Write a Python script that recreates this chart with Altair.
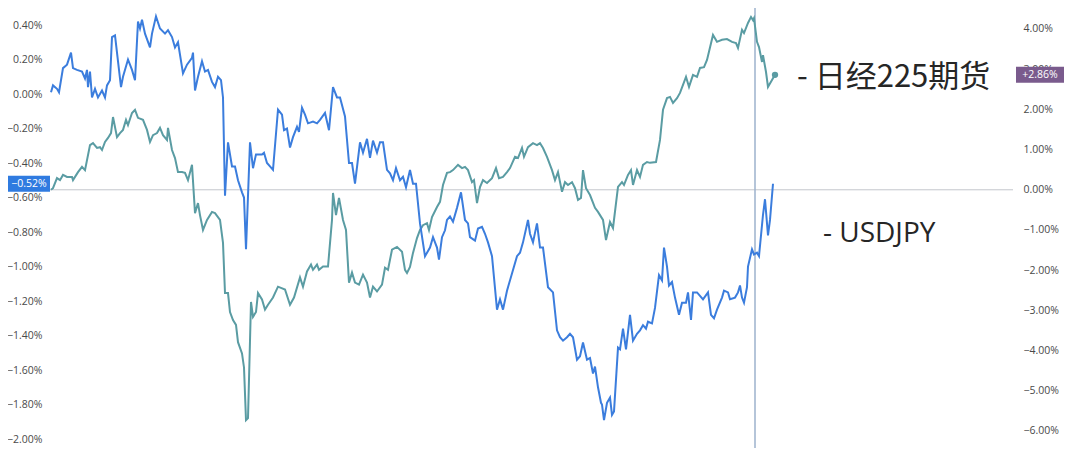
import altair as alt
import pandas as pd

# USDJPY (left axis, % change) - time index and values
usd_t = [1, 3, 7, 9, 13, 17, 21, 23, 27, 32, 35, 37, 38, 40, 42, 45, 48, 52, 55, 57, 60, 62, 65, 67, 71, 73, 78, 82, 85, 88,
         90, 92, 95, 100, 102, 106, 110, 115, 118, 122, 125, 128, 133, 137, 142, 143, 145, 148, 152, 155, 158, 162, 165, 168,
         171, 173, 175, 178, 182, 185, 188, 192, 194, 196, 200, 203, 206, 212, 214, 217, 220, 223, 228, 232, 234, 237, 240,
         243, 247, 249, 252, 255, 258, 263, 267, 270, 275, 279, 283, 287, 290, 295, 299, 302, 305, 310, 313, 317, 320, 323,
         327, 330, 333, 337, 340, 343, 346, 350, 353, 356, 360, 363, 366, 370, 375, 380, 383, 387, 389, 392, 395, 397, 400,
         403, 407, 411, 415, 418, 420, 425, 428, 432, 435, 438, 442, 447, 450, 453, 457, 463, 467, 470, 473, 478, 480, 483,
         487, 490, 493, 498, 503, 507, 510, 513, 517, 520, 523, 527, 530, 533, 537, 540, 543, 545, 548, 551, 552, 554, 557,
         560, 562, 564, 568, 570, 573, 576, 580, 583, 587, 590, 593, 596, 598, 602, 605, 609, 612, 614, 617, 619, 622, 625,
         629, 632, 636, 638, 641, 643, 647, 650, 653, 658, 661, 664, 667, 672, 674, 678, 680, 685, 688, 690, 692, 694, 697,
         698, 702, 704, 707, 709, 713, 715, 718, 720, 723]
usd_v = [0.01, 0.05, 0.03, 0.01, 0.15, 0.17, 0.24, 0.15, 0.14, 0.13, 0.09, 0.14, 0.04, 0.13, -0.02, 0.03, -0.02, 0.02, -0.02,
         0.05, 0.08, 0.33, 0.34, 0.24, 0.04, 0.10, 0.20, 0.14, 0.08, 0.42, 0.38, 0.43, 0.35, 0.27, 0.35, 0.45, 0.38, 0.35,
         0.37, 0.33, 0.27, 0.30, 0.12, 0.17, 0.21, 0.24, 0.02, 0.10, 0.19, 0.13, 0.14, 0.07, 0.04, 0.10, 0.08, -0.02, -0.59,
         -0.28, -0.42, -0.42, -0.50, -0.57, -0.60, -0.90, -0.28, -0.43, -0.35, -0.35, -0.34, -0.40, -0.42, -0.44, -0.09,
         -0.12, -0.21, -0.20, -0.31, -0.25, -0.19, -0.22, -0.08, -0.12, -0.17, -0.16, -0.17, -0.15, -0.11, -0.21, 0.04,
         -0.02, -0.02, -0.13, -0.40, -0.40, -0.52, -0.28, -0.34, -0.26, -0.37, -0.27, -0.34, -0.28, -0.28, -0.44, -0.46,
         -0.50, -0.43, -0.50, -0.48, -0.54, -0.44, -0.52, -0.52, -0.75, -0.94, -0.89, -0.83, -0.89, -0.96, -0.83, -0.79,
         -0.73, -0.71, -0.74, -0.66, -0.57, -0.73, -0.75, -0.83, -0.85, -0.78, -0.77, -0.81, -0.86, -0.94, -1.25, -1.19,
         -1.25, -1.14, -1.02, -0.94, -0.92, -0.86, -0.73, -0.81, -0.86, -0.75, -0.89, -0.89, -1.12, -1.15, -1.37, -1.41,
         -1.43, -1.41, -1.39, -1.41, -1.54, -1.52, -1.44, -1.54, -1.53, -1.62, -1.58, -1.70, -1.79, -1.80, -1.89, -1.79,
         -1.76, -1.86, -1.84, -1.47, -1.48, -1.36, -1.48, -1.28, -1.43, -1.39, -1.37, -1.34, -1.36, -1.32, -1.33, -1.24,
         -1.05, -1.08, -0.89, -1.00, -1.11, -1.09, -1.18, -1.28, -1.21, -1.21, -1.15, -1.31, -1.15, -1.15, -1.17, -1.19,
         -1.15, -1.28, -1.30, -1.25, -1.18, -1.14, -1.15, -1.19, -1.18, -1.15, -1.11, -1.18, -1.21, -1.12, -1.00, -0.90,
         -0.93, -0.92, -0.94, -0.70, -0.61, -0.82, -0.73, -0.52]

# Nikkei 225 futures (right axis, % change)
nk_t = [1, 3, 7, 10, 13, 17, 22, 23, 28, 32, 35, 40, 43, 47, 50, 52, 55, 58, 61, 63, 67, 70, 73, 76, 78, 82, 85, 88, 93, 97,
        100, 103, 107, 110, 113, 117, 118, 122, 125, 128, 132, 135, 138, 142, 145, 148, 150, 153, 157, 162, 165, 170, 173,
        175, 178, 180, 183, 186, 188, 192, 194, 196, 198, 201, 203, 206, 208, 212, 215, 218, 223, 228, 235, 240, 244, 250,
        253, 257, 261, 263, 267, 269, 273, 278, 282, 283, 286, 289, 293, 296, 299, 302, 305, 309, 313, 317, 320, 323, 327,
        332, 335, 338, 342, 347, 352, 355, 357, 360, 363, 367, 370, 373, 377, 379, 382, 387, 390, 393, 397, 400, 403, 408,
        412, 415, 418, 422, 424, 427, 430, 433, 437, 442, 446, 449, 453, 457, 460, 465, 468, 472, 474, 478, 483, 487, 490,
        493, 497, 502, 505, 508, 512, 515, 518, 522, 525, 528, 531, 533, 536, 540, 545, 548, 553, 556, 560, 563, 568, 572,
        574, 578, 581, 583, 587, 590, 593, 597, 600, 606, 610, 613, 617, 620, 623, 627, 630, 636, 639, 643, 647, 650, 654,
        657, 663, 667, 672, 677, 682, 686, 688, 692, 694, 698, 701, 703, 704, 707, 709, 712, 713, 716, 718, 722, 725]
nk_v = [0.00, 0.04, 0.29, 0.24, 0.37, 0.32, 0.32, 0.24, 0.44, 0.57, 0.49, 1.11, 1.16, 1.04, 1.06, 0.99, 1.19, 1.29, 1.41,
        1.81, 1.31, 1.41, 1.49, 1.74, 1.61, 1.91, 1.99, 1.79, 1.74, 1.49, 1.19, 1.36, 1.41, 1.54, 1.36, 1.24, 1.54, 0.99,
        0.79, 0.44, 0.44, 0.42, 0.24, 0.62, -0.58, -0.33, -0.63, -1.00, -0.75, -0.55, -0.58, -0.75, -1.32, -2.57, -2.57,
        -3.04, -3.24, -3.36, -3.79, -4.07, -4.42, -5.73, -5.68, -2.79, -3.16, -3.04, -2.57, -2.73, -2.98, -2.86, -2.68,
        -2.41, -2.48, -2.86, -2.68, -2.18, -2.41, -2.03, -1.86, -1.99, -1.86, -1.99, -1.91, -1.91, -0.75, -0.08, -0.63,
        -0.20, -0.75, -1.00, -2.31, -2.06, -2.31, -2.36, -2.11, -2.31, -2.68, -2.41, -2.53, -2.36, -1.94, -1.99, -1.49,
        -1.42, -1.54, -1.99, -2.07, -1.92, -1.57, -1.20, -1.00, -0.88, -0.83, -1.00, -0.68, -0.43, -0.30, 0.12, 0.42,
        0.44, 0.49, 0.62, 0.54, 0.57, 0.49, 0.19, 0.24, -0.33, 0.07, 0.24, 0.17, 0.29, 0.54, 0.29, 0.32, 0.44, 0.54,
        0.82, 0.79, 1.04, 0.82, 1.06, 1.16, 1.11, 1.16, 1.04, 0.82, 0.49, 0.24, 0.44, -0.05, 0.19, 0.12, 0.19, 0.04,
        -0.25, -0.20, 0.49, 0.04, -0.13, -0.45, -0.55, -0.75, -1.25, -0.80, -0.95, 0.07, 0.19, 0.12, 0.37, 0.49, 0.12,
        0.49, 0.32, 0.62, 0.69, 0.67, 0.69, 1.24, 1.99, 2.28, 2.31, 2.16, 2.28, 2.41, 2.81, 2.56, 2.86, 2.81, 3.03, 3.05,
        3.23, 3.85, 3.68, 3.73, 3.75, 3.68, 3.65, 3.53, 3.98, 3.90, 4.15, 4.30, 4.22, 4.27, 3.68, 3.55, 3.18, 3.35, 2.93,
        2.56, 2.73, 2.86]

left_ticks = [0.4, 0.2, 0.0, -0.2, -0.4, -0.6, -0.8, -1.0, -1.2, -1.4, -1.6, -1.8, -2.0]
right_ticks = [4, 3, 2, 1, 0, -1, -2, -3, -4, -5, -6]

usd_last = ["−0.52%"]
nk_last = ["+2.86%"]
label_nk = ["-  日经225期货"]
label_usd = ["-  USDJPY"]
cursor_t = [705]

BLUE = "#3b7ddd"
TEAL = "#5a9ca3"
BADGE_BLUE = "#2f7be0"
BADGE_PURPLE = "#7a5b8d"
AXIS_FONT = "Open Sans"

W, H = 963, 440
x_scale = alt.Scale(domain=[0, W], nice=False, zero=False)
usd_scale = alt.Scale(domain=[-2.052, 0.4986], nice=False, zero=False)
nk_scale = alt.Scale(domain=[-6.423, 4.522], nice=False, zero=False)

usd = pd.DataFrame({"t": usd_t, "v": usd_v})
nk = pd.DataFrame({"t": nk_t, "v": nk_v})

axis_common = dict(domain=False, grid=False, ticks=False, tickSize=0, labelFontSize=10.5,
                   labelFont=AXIS_FONT, labelColor="#4a4a4a", title=None,
                   labelExpr="format(datum.value, '.2f') + '%'")

usd_line = alt.Chart(usd).mark_line(color=BLUE, strokeWidth=2).encode(
    x=alt.X("t:Q", scale=x_scale, axis=None),
    y=alt.Y("v:Q", scale=usd_scale,
            axis=alt.Axis(orient="left", values=left_ticks, labelPadding=8, **axis_common)),
)

nk_line = alt.Chart(nk).mark_line(color=TEAL, strokeWidth=2).encode(
    x=alt.X("t:Q", scale=x_scale, axis=None),
    y=alt.Y("v:Q", scale=nk_scale,
            axis=alt.Axis(orient="right", values=right_ticks, labelPadding=10, **axis_common)),
)

zero_rule = alt.Chart(pd.DataFrame({"v": [0]})).mark_rule(color="#c3c6cc", strokeWidth=1).encode(
    y=alt.Y("v:Q", scale=nk_scale, axis=None)
)

cursor = alt.Chart(pd.DataFrame({"t": cursor_t})).mark_rule(color="#9db2cc", strokeWidth=1.5).encode(
    x=alt.X("t:Q", scale=x_scale, axis=None)
)

nk_dot = alt.Chart(nk.tail(1)).mark_point(filled=True, color=TEAL, size=40, opacity=1).encode(
    x=alt.X("t:Q", scale=x_scale, axis=None),
    y=alt.Y("v:Q", scale=nk_scale, axis=None),
)

usd_badge_df = pd.DataFrame({"v": [usd_v[-1]], "label": usd_last})
nk_badge_df = pd.DataFrame({"v": [nk_v[-1]], "label": nk_last})

usd_badge = alt.Chart(usd_badge_df).mark_tick(orient="vertical", size=16, thickness=42,
                                              color=BADGE_BLUE, opacity=1).encode(
    x=alt.value(-21), y=alt.Y("v:Q", scale=usd_scale, axis=None))
usd_badge_txt = alt.Chart(usd_badge_df).mark_text(color="white", fontSize=10.5, font=AXIS_FONT,
                                                  align="center", baseline="middle").encode(
    x=alt.value(-21), y=alt.Y("v:Q", scale=usd_scale, axis=None), text="label:N")

nk_badge = alt.Chart(nk_badge_df).mark_tick(orient="vertical", size=16, thickness=48,
                                            color=BADGE_PURPLE, opacity=1).encode(
    x=alt.value(990), y=alt.Y("v:Q", scale=nk_scale, axis=None))
nk_badge_txt = alt.Chart(nk_badge_df).mark_text(color="white", fontSize=10.5, font=AXIS_FONT,
                                                align="center", baseline="middle").encode(
    x=alt.value(990), y=alt.Y("v:Q", scale=nk_scale, axis=None), text="label:N")

txt_nk = alt.Chart(pd.DataFrame({"label": label_nk})).mark_text(
    fontSize=31, font="Noto Sans CJK SC", color="#262626", align="left", baseline="middle").encode(
    x=alt.value(747), y=alt.value(70), text="label:N")
txt_usd = alt.Chart(pd.DataFrame({"label": label_usd})).mark_text(
    fontSize=28, font="Open Sans", color="#262626", align="left", baseline="middle").encode(
    x=alt.value(773), y=alt.value(226), text="label:N")

chart = alt.layer(
    zero_rule, cursor, nk_line, usd_line, nk_dot,
    usd_badge, usd_badge_txt, nk_badge, nk_badge_txt, txt_nk, txt_usd
).resolve_scale(y="independent").properties(
    width=W, height=H,
    padding={"left": 42, "top": 0, "right": 52, "bottom": 0},
    autosize=alt.AutoSizeParams(type="none"),
    background="white",
).configure_view(stroke=None)

chart.save("out.html", embed_options={"renderer": "svg", "actions": False})
